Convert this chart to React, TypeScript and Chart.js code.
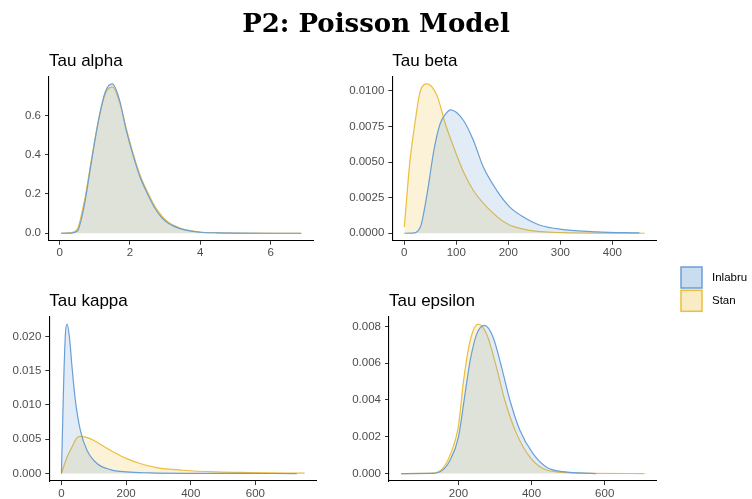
import React, { useEffect, useRef } from "react";
import { Chart, registerables } from "chart.js";

Chart.register(...registerables);

// ---------------- data ----------------
const mainTitle = "P2: Poisson Model";
const seriesNames = ["Inlabru", "Stan"];

// Tau alpha
const alphaX = [0.04, 0.3, 0.5, 0.7, 0.9, 1.1, 1.3, 1.5, 1.7, 1.9, 2.1, 2.3, 2.5, 2.7, 2.9, 3.1, 3.4, 3.7, 4.0, 4.5, 5.0, 6.0, 6.87];
const alphaInlabru = [0, 0.001, 0.01, 0.14, 0.36, 0.57, 0.72, 0.76, 0.68, 0.52, 0.39, 0.28, 0.2, 0.13, 0.08, 0.05, 0.025, 0.012, 0.005, 0.002, 0.0005, 0, 0];
const alphaStan = [0, 0.002, 0.02, 0.16, 0.37, 0.57, 0.71, 0.745, 0.67, 0.53, 0.4, 0.29, 0.21, 0.14, 0.09, 0.055, 0.028, 0.013, 0.006, 0.002, 0.0005, 0, 0];
const alphaXTicks = [0, 2, 4, 6];
const alphaYTicks = [0, 0.2, 0.4, 0.6];
const alphaYLabels = ["0.0", "0.2", "0.4", "0.6"];

// Tau beta
const betaInlabruX = [0.2, 15, 31, 44, 57, 69, 80, 89, 100, 114, 133, 152, 178, 203, 229, 261, 305, 369, 452];
const betaInlabruY = [0, 0.00001, 0.00044, 0.00278, 0.00582, 0.00769, 0.0084, 0.00867, 0.0085, 0.00792, 0.00652, 0.00465, 0.003, 0.00184, 0.00114, 0.00056, 0.00026, 0.0001, 0.00002];
const betaStanX = [0.2, 10.8, 19.7, 31, 44, 63, 79, 95, 114, 133, 159, 197, 241, 307, 380, 462];
const betaStanY = [0.00044, 0.005, 0.0075, 0.01, 0.01049, 0.00967, 0.00769, 0.00605, 0.0043, 0.003, 0.00184, 0.00068, 0.0002, 0.00004, 0.00001, 0];
const betaXTicks = [0, 100, 200, 300, 400];
const betaYTicks = [0, 0.0025, 0.005, 0.0075, 0.01];
const betaYLabels = ["0.0000", "0.0025", "0.0050", "0.0075", "0.0100"];

// Tau kappa
const kappaInlabruX = [0, 7, 12.3, 17.4, 24.6, 32.8, 43, 58.5, 79, 110, 151, 202, 274, 400, 550, 728];
const kappaInlabruY = [0, 0.01359, 0.0204, 0.02179, 0.0199, 0.0155, 0.01067, 0.0063, 0.0034, 0.00146, 0.00058, 0.00024, 0.0001, 0.00003, 0.00001, 0];
const kappaStanX = [0, 17.4, 32.8, 48.2, 58.5, 89, 120, 161, 202, 243, 294, 376, 479, 582, 752];
const kappaStanY = [0, 0.00242, 0.00388, 0.00524, 0.00543, 0.0051, 0.00427, 0.00315, 0.00218, 0.00146, 0.00087, 0.00048, 0.00024, 0.00015, 0.00005];
const kappaXTicks = [0, 200, 400, 600];
const kappaYTicks = [0, 0.005, 0.01, 0.015, 0.02];
const kappaYLabels = ["0.000", "0.005", "0.010", "0.015", "0.020"];

// Tau epsilon
const epsInlabruX = [43.3, 120, 150, 177, 200, 218, 232, 250, 271, 295, 318, 341, 368, 404, 440, 486, 576];
const epsInlabruY = [0, 0.000005, 0.0001, 0.00072, 0.00198, 0.00433, 0.00614, 0.00758, 0.00805, 0.0074, 0.00577, 0.00397, 0.00235, 0.00108, 0.00036, 0.0001, 0];
const epsStanX = [43.3, 120, 150, 177, 200, 214, 232, 254, 277, 304, 327, 359, 395, 431, 486, 560, 709];
const epsStanY = [0, 0.000005, 0.00015, 0.001, 0.0026, 0.00505, 0.00722, 0.00812, 0.00758, 0.00577, 0.00397, 0.00217, 0.0009, 0.00027, 0.00006, 0.00001, 0];
const epsXTicks = [200, 400, 600];
const epsYTicks = [0, 0.002, 0.004, 0.006, 0.008];
const epsYLabels = ["0.000", "0.002", "0.004", "0.006", "0.008"];

// ---------------- style ----------------
const W = 752;
const H = 499;
const SANS = "'Liberation Sans', Arial, Helvetica, sans-serif";
const BLUE = "rgb(106,159,214)";
const BLUE_FILL = "rgba(106,159,214,0.2)";
const YELLOW = "rgb(236,190,58)";
const YELLOW_FILL = "rgba(236,190,58,0.2)";
const Y_SCALE_W = 48;
const X_SCALE_H = 22;

type Panel = {
  title: string;
  inX: number[];
  inY: number[];
  stX: number[];
  stY: number[];
  xTicks: number[];
  yTicks: number[];
  yLabels: string[];
  area: { l: number; r: number; t: number; b: number };
};

const panels: Panel[] = [
  { title: "Tau alpha", inX: alphaX, inY: alphaInlabru, stX: alphaX, stY: alphaStan, xTicks: alphaXTicks, yTicks: alphaYTicks, yLabels: alphaYLabels, area: { l: 49, r: 313.3, t: 76.5, b: 240.7 } },
  { title: "Tau beta", inX: betaInlabruX, inY: betaInlabruY, stX: betaStanX, stY: betaStanY, xTicks: betaXTicks, yTicks: betaYTicks, yLabels: betaYLabels, area: { l: 392.3, r: 656.7, t: 76.5, b: 240.7 } },
  { title: "Tau kappa", inX: kappaInlabruX, inY: kappaInlabruY, stX: kappaStanX, stY: kappaStanY, xTicks: kappaXTicks, yTicks: kappaYTicks, yLabels: kappaYLabels, area: { l: 49.3, r: 316.7, t: 316.7, b: 481 } },
  { title: "Tau epsilon", inX: epsInlabruX, inY: epsInlabruY, stX: epsStanX, stY: epsStanY, xTicks: epsXTicks, yTicks: epsYTicks, yLabels: epsYLabels, area: { l: 389, r: 656.7, t: 316.7, b: 481 } },
];

function pts(xs: number[], ys: number[]) {
  return xs.map((x, i) => ({ x, y: ys[i] }));
}

function makeConfig(p: Panel, withExtras: boolean): any {
  const allX = [...p.inX, ...p.stX];
  const allY = [...p.inY, ...p.stY];
  const xmin = Math.min(...allX);
  const xmax = Math.max(...allX);
  const ymax = Math.max(...allY);
  const xpad = (xmax - xmin) * 0.05;
  const ypad = ymax * 0.05;
  const yw = Math.min(Y_SCALE_W, p.area.l);

  const panelTitle = {
    id: "panelTitle",
    afterDraw(chart: any) {
      const ctx = chart.ctx;
      const a = chart.chartArea;
      ctx.save();
      ctx.font = `17px ${SANS}`;
      ctx.fillStyle = "#000000";
      ctx.textAlign = "left";
      ctx.textBaseline = "alphabetic";
      ctx.fillText(p.title, a.left, a.top - 11);
      if (withExtras) {
        ctx.font = `bold 26px 'DejaVu Serif', serif`;
        ctx.textAlign = "center";
        ctx.fillText(mainTitle, 376, 31.7);
        // legend
        const keys = [
          { name: seriesNames[0], fill: "rgba(106,159,214,0.36)", stroke: BLUE },
          { name: seriesNames[1], fill: "rgba(236,190,58,0.3)", stroke: YELLOW },
        ];
        keys.forEach((k, i) => {
          const x = 680;
          const y = 266 + i * 23.3;
          ctx.fillStyle = "#ffffff";
          ctx.fillRect(x, y, 23, 23);
          ctx.fillStyle = k.fill;
          ctx.fillRect(x + 1, y + 1, 21, 21);
          ctx.strokeStyle = k.stroke;
          ctx.lineWidth = 1.5;
          ctx.strokeRect(x + 1, y + 1, 21, 21);
          ctx.fillStyle = "#000000";
          ctx.font = `11.5px ${SANS}`;
          ctx.textAlign = "left";
          ctx.textBaseline = "middle";
          ctx.fillText(k.name, 712, y + 11.8);
        });
      }
      ctx.restore();
    },
  };

  return {
    type: "line",
    data: {
      datasets: [
        {
          label: seriesNames[0],
          data: pts(p.inX, p.inY),
          borderColor: BLUE,
          backgroundColor: BLUE_FILL,
          borderWidth: 1.2,
          pointRadius: 0,
          fill: "origin",
          cubicInterpolationMode: "monotone",
        },
        {
          label: seriesNames[1],
          data: pts(p.stX, p.stY),
          borderColor: YELLOW,
          backgroundColor: YELLOW_FILL,
          borderWidth: 1.2,
          pointRadius: 0,
          fill: "origin",
          cubicInterpolationMode: "monotone",
        },
      ],
    },
    options: {
      animation: false,
      responsive: false,
      maintainAspectRatio: false,
      events: [],
      layout: {
        padding: {
          left: p.area.l - yw,
          right: W - p.area.r,
          top: p.area.t,
          bottom: H - p.area.b - X_SCALE_H,
        },
      },
      plugins: {
        legend: { display: false },
        tooltip: { enabled: false },
        title: { display: false },
      },
      scales: {
        x: {
          type: "linear",
          min: xmin - xpad,
          max: xmax + xpad,
          afterFit(scale: any) {
            scale.height = X_SCALE_H;
          },
          afterBuildTicks(scale: any) {
            scale.ticks = p.xTicks.map((v) => ({ value: v }));
          },
          ticks: {
            autoSkip: false,
            maxRotation: 0,
            padding: 1.5,
            color: "#4D4D4D",
            font: { family: SANS, size: 11.5 },
            callback: (v: any) => String(v),
          },
          grid: { display: true, drawOnChartArea: false, drawTicks: true, tickLength: 4, color: "#333333", lineWidth: 1 },
          border: { display: true, color: "#000000", width: 1.1 },
        },
        y: {
          type: "linear",
          min: -ypad,
          max: ymax + ypad,
          afterFit(scale: any) {
            scale.width = yw;
          },
          afterBuildTicks(scale: any) {
            scale.ticks = p.yTicks.map((v) => ({ value: v }));
          },
          ticks: {
            autoSkip: false,
            padding: 4,
            color: "#4D4D4D",
            font: { family: SANS, size: 11.5 },
            callback: (_v: any, i: number) => p.yLabels[i],
          },
          grid: { display: true, drawOnChartArea: false, drawTicks: true, tickLength: 4, color: "#333333", lineWidth: 1 },
          border: { display: true, color: "#000000", width: 1.1 },
        },
      },
    },
    plugins: [panelTitle],
  };
}

function PanelCanvas({ panel, extras }: { panel: Panel; extras: boolean }) {
  const ref = useRef<HTMLCanvasElement | null>(null);
  useEffect(() => {
    if (!ref.current) return;
    const chart = new Chart(ref.current, makeConfig(panel, extras));
    return () => chart.destroy();
  }, [panel, extras]);
  return (
    <canvas
      ref={ref}
      width={W}
      height={H}
      style={{ position: "absolute", left: 0, top: 0, width: W, height: H }}
    />
  );
}

export default function App() {
  useEffect(() => {
    document.body.style.margin = "0";
    document.body.style.background = "#ffffff";
  }, []);
  return (
    <div style={{ position: "relative", width: W, height: H, background: "#ffffff", overflow: "hidden" }}>
      {panels.map((p, i) => (
        <PanelCanvas key={p.title} panel={p} extras={i === 0} />
      ))}
    </div>
  );
}
